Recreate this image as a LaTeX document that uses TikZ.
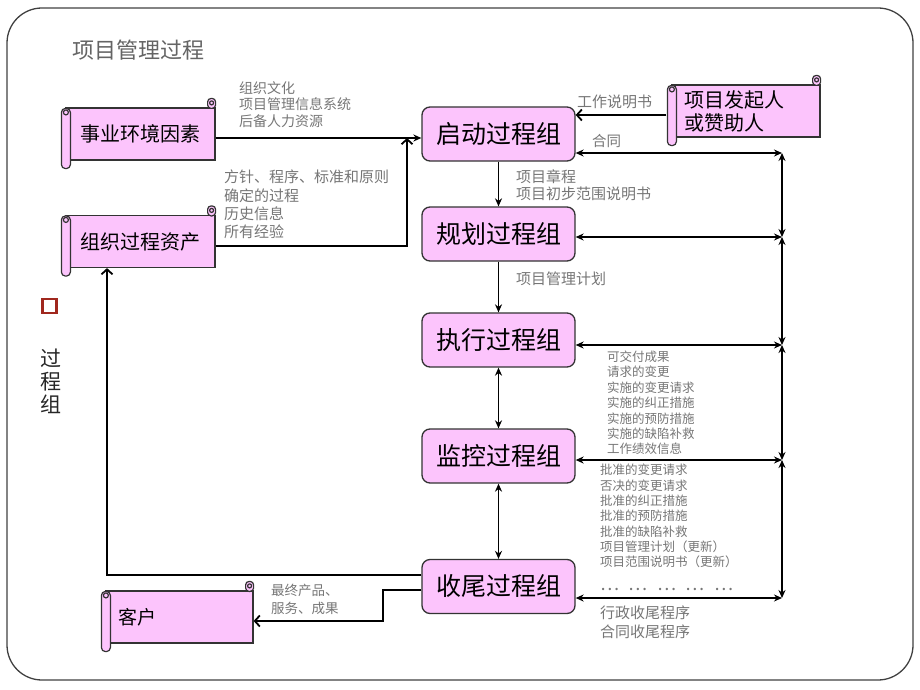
\documentclass[tikz,border=0pt]{standalone}
\usepackage{fontspec}
\usetikzlibrary{arrows.meta,calc}
\newfontfamily\cjk{Noto Sans CJK SC}
\definecolor{pinkc}{RGB}{252,196,252}
\definecolor{lblgray}{RGB}{118,118,118}
\definecolor{bulletred}{RGB}{160,40,30}
\newcommand\fs[2]{\fontsize{#1}{#2}\selectfont}
\tikzset{
 boxline/.style={draw=black!80, line width=1.2pt},
 pbox/.style={draw=black!80, line width=1.3pt, fill=pinkc, rounded corners=8pt, minimum width=153pt, minimum height=54pt, inner sep=0pt, font=\cjk\fs{25}{30}},
 sbody/.style={boxline, fill=pinkc, inner sep=0pt, font=\cjk\fs{20}{23}},
 lbl/.style={text=lblgray, anchor=west, align=left, inner sep=0pt},
 conn/.style={line width=1.8pt, draw=black},
 fa/.style={conn, -{Stealth[length=8pt,width=7pt]}},
 da/.style={conn, {Stealth[length=8pt,width=7pt]}-{Stealth[length=8pt,width=7pt]}},
 oa/.style={conn, -{Straight Barb[length=5pt,width=11pt]}},
}
\newcommand\scrolldeco[1]{%
  \draw[boxline, fill=pinkc, rounded corners=4pt]
    ([xshift=-4pt,yshift=-1pt]#1.north west) rectangle ([xshift=5pt,yshift=-8pt]#1.south west);
  \draw[boxline, fill=pinkc] ([xshift=0.5pt,yshift=-5pt]#1.north west) circle (2.5pt);
  \draw[boxline, fill=pinkc, rounded corners=3.5pt]
    ([xshift=-8pt,yshift=9pt]#1.north east) rectangle ([yshift=-1pt]#1.north east);
  \draw[boxline] ([xshift=-4pt,yshift=4.5pt]#1.north east) circle (2pt);
}
\begin{document}
\begin{tikzpicture}[x=1pt,y=-1pt]
\useasboundingbox (0,0) rectangle (920,690);
\draw[black!75, line width=1.3pt, rounded corners=35pt] (7,8) rectangle (913,680);

\node[anchor=west, text=lblgray!85!black, font=\cjk\fs{22}{24}, inner sep=0pt] (title) at (72,50) {项目管理过程};
\node[draw=bulletred, line width=2.5pt, minimum size=14pt, inner sep=0pt] (bul) at (49.5,306) {};
\node[font=\cjk\fs{21}{23}, align=center, inner sep=0pt, text=black!85] (vt) at (51,381) {过\\程\\组};

% process groups
\node[pbox] (init)  at (498.5,134)   {启动过程组};
\node[pbox] (plan)  at (498.5,234)   {规划过程组};
\node[pbox] (exec)  at (498.5,340)   {执行过程组};
\node[pbox] (mon)   at (498.5,456)   {监控过程组};
\node[pbox] (close) at (498.5,586.5) {收尾过程组};

% scrolls
\node[sbody, minimum width=149pt, minimum height=52pt] (ef)  at (140.5,134)   {事业环境因素};
\scrolldeco{ef}
\node[sbody, minimum width=149pt, minimum height=52pt] (ope) at (140.5,241.5) {组织过程资产};
\scrolldeco{ope}
\node[sbody, minimum width=148pt, minimum height=52pt, text width=124pt, align=left] (sp) at (746,111) {项目发起人\\或赞助人};
\scrolldeco{sp}
\node[sbody, font=\cjk\fs{19}{22}, minimum width=147pt, minimum height=52pt, text width=123pt, align=left] (cust) at (179.5,617) {客户};
\scrolldeco{cust}

% coordinates
\coordinate (j1) at (407,138);
\coordinate (s1) at ([xshift=-5pt,yshift=-4pt]sp.west);
\coordinate (r1) at (782,153);
\coordinate (r2) at (782,237);
\coordinate (r3) at (782,345);
\coordinate (r4) at (782,460);
\coordinate (r5) at (782,598);
\coordinate (lx) at (107,575);
\coordinate (cx) at (383,590);

% left inputs
\draw[fa] ([yshift=-4pt]ef.east) -- (init.west |- j1);
\draw[oa] ([yshift=-4.5pt]ope.east) -| (j1);
\draw[oa] (s1) -- (init.east |- s1);

% main chain
\draw[fa] (init) -- (plan);
\draw[fa] (plan) -- (exec);
\draw[da] (exec) -- (mon);
\draw[da] (mon) -- (close);

% right bus
\draw[da] (init.east |- r1) -- (r1);
\draw[da] (plan.east |- r2) -- (r2);
\draw[da] (exec.east |- r3) -- (r3);
\draw[da] (mon.east |- r4) -- (r4);
\draw[da] (close.east |- r5) -- (r5);
\draw[da] (r1) -- (r2);
\draw[da] (r2) -- (r3);
\draw[da] (r3) -- (r4);
\draw[da] (r4) -- (r5);

% outputs from closing
\draw[oa] (close.west |- lx) -- (lx) -- (lx |- ope.south);
\draw[oa] (close.west |- cx) -- (cx) |- ([yshift=-4pt]cust.east);

% labels
\node[lbl, font=\cjk\fs{14}{16.5}] (l1) at (239,104.5) {组织文化\\项目管理信息系统\\后备人力资源};
\node[lbl, font=\cjk\fs{15}{18.3}] (l2) at (224,204.5) {方针、程序、标准和原则\\确定的过程\\历史信息\\所有经验};
\node[lbl, font=\cjk\fs{15}{17}] (l3) at (516,185.5) {项目章程\\项目初步范围说明书};
\node[lbl, font=\cjk\fs{15}{18}] (l4) at (516,279) {项目管理计划};
\node[lbl, font=\cjk\fs{15}{18}] (l5) at (577,102) {工作说明书};
\node[lbl, font=\cjk\fs{14.5}{18}] (l6) at (592,141) {合同};
\node[lbl, font=\cjk\fs{12.5}{15.4}] (l7) at (607,403) {可交付成果\\请求的变更\\实施的变更请求\\实施的纠正措施\\实施的预防措施\\实施的缺陷补救\\工作绩效信息};
\node[lbl, font=\cjk\fs{12.5}{15.3}] (l8) at (600,516) {批准的变更请求\\否决的变更请求\\批准的纠正措施\\批准的预防措施\\批准的缺陷补救\\项目管理计划（更新）\\项目范围说明书（更新）};
\node[lbl, font=\cjk\fs{18}{20}] (l9) at (600,589) {…\hspace{9.5pt}…\hspace{9.5pt}…\hspace{9.5pt}…\hspace{9.5pt}…};
\node[lbl, font=\cjk\fs{15}{19}] (l10) at (600,622.5) {行政收尾程序\\合同收尾程序};
\node[lbl, font=\cjk\fs{13.5}{18}] (l11) at (271,599) {最终产品、\\服务、成果};
\end{tikzpicture}
\end{document}
